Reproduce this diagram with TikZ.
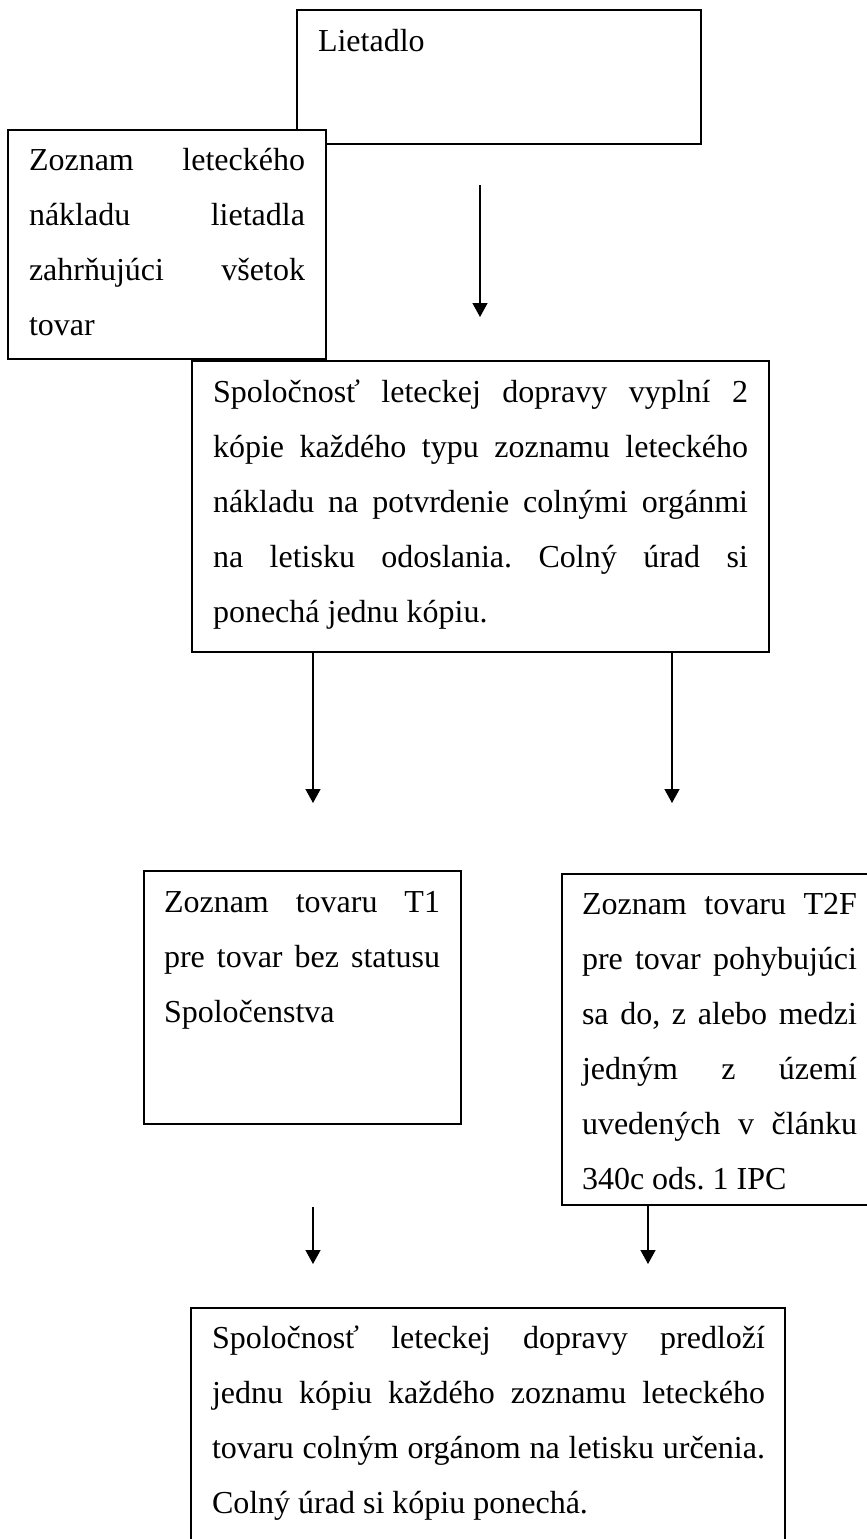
\documentclass[tikz,border=0pt]{standalone}
\usepackage{fontspec}
\setmainfont{Liberation Serif}
\usetikzlibrary{arrows.meta}
\frenchspacing

% text blocks: every justified line is a box of the block width,
% the last line of a paragraph keeps its natural width
\newlength\blockw
\newcommand{\jl}[1]{\hbox to \blockw{\strut#1}}
\newcommand{\lastl}[1]{\hbox{\strut#1}}
\newcommand{\textblock}[2]{\vtop{\blockw=#1\relax\hsize=\blockw
  \baselineskip=55pt\lineskip=0pt\lineskiplimit=-100pt
  \spaceskip=0.25em plus 20em\relax #2}}

\begin{document}
\begin{tikzpicture}[x=1pt,y=-1pt,
  frame/.style={draw,line width=1.6pt,fill=white,rectangle,anchor=north west,
    inner sep=0pt,outer sep=0pt},
  txt/.style={anchor=north west,inner sep=0pt,outer sep=0pt,
    font={\fontsize{32}{55}\selectfont}},
  flow/.style={line width=1.4pt,-{Triangle[length=14pt,width=15pt]}}]

\useasboundingbox (0,0) rectangle (867,1539);
\clip (0,0) rectangle (867,1539);

% boxes
\node[frame,minimum width=404pt,minimum height=134pt] (lietadlo) at (297,10) {};
\node[frame,minimum width=577pt,minimum height=291pt] (spol) at (192,361) {};
\node[frame,minimum width=318pt,minimum height=229pt] (zoznam) at (8,130) {};
\node[frame,minimum width=317pt,minimum height=253pt] (t1) at (144,871) {};
\node[frame,minimum width=340pt,minimum height=331pt] (t2f) at (562,874) {};
\node[frame,minimum width=594pt,minimum height=270pt] (predlozi) at (191,1308) {};

% texts
\node[txt,anchor=base west] (lietadlo-t) at (318,51) {Lietadlo};

\node[txt] (zoznam-t) at (29,131.5) {\textblock{276pt}{%
  \jl{Zoznam leteckého}
  \jl{nákladu lietadla}
  \jl{zahrňujúci všetok}
  \lastl{tovar}}};

\node[txt] (spol-t) at (213,363.5) {\textblock{535pt}{%
  \jl{Spoločnosť leteckej dopravy vyplní 2}
  \jl{kópie každého typu zoznamu leteckého}
  \jl{nákladu na potvrdenie colnými orgánmi}
  \jl{na letisku odoslania. Colný úrad si}
  \lastl{ponechá jednu kópiu.}}};

\node[txt] (t1-t) at (164,873.5) {\textblock{276pt}{%
  \jl{Zoznam tovaru T1}
  \jl{pre tovar bez statusu}
  \lastl{Spoločenstva}}};

\node[txt] (t2f-t) at (582,875.5) {\textblock{275pt}{%
  \jl{Zoznam tovaru T2F}
  \jl{pre tovar pohybujúci}
  \jl{sa do, z alebo medzi}
  \jl{jedným z území}
  \jl{uvedených v článku}
  \lastl{340c ods. 1 IPC}}};

\node[txt] (predlozi-t) at (212,1310) {\textblock{553pt}{%
  \jl{Spoločnosť leteckej dopravy predloží}
  \jl{jednu kópiu každého zoznamu leteckého}
  \jl{tovaru colným orgánom na letisku určenia.}
  \lastl{Colný úrad si kópiu ponechá.}}};

% connectors
\coordinate (a1s) at (480,185); \coordinate (a1e) at (480,317);
\coordinate (a2s) at (313,652); \coordinate (a2e) at (313,803);
\coordinate (a3s) at (672,652); \coordinate (a3e) at (672,803);
\coordinate (a4s) at (313,1207);\coordinate (a4e) at (313,1264);
\coordinate (a5s) at (648,1205);\coordinate (a5e) at (648,1264);

\draw[flow] (a1s) -- (a1e);
\draw[flow] (a2s) -- (a2e);
\draw[flow] (a3s) -- (a3e);
\draw[flow] (a4s) -- (a4e);
\draw[flow] (a5s) -- (a5e);
\end{tikzpicture}
\end{document}
